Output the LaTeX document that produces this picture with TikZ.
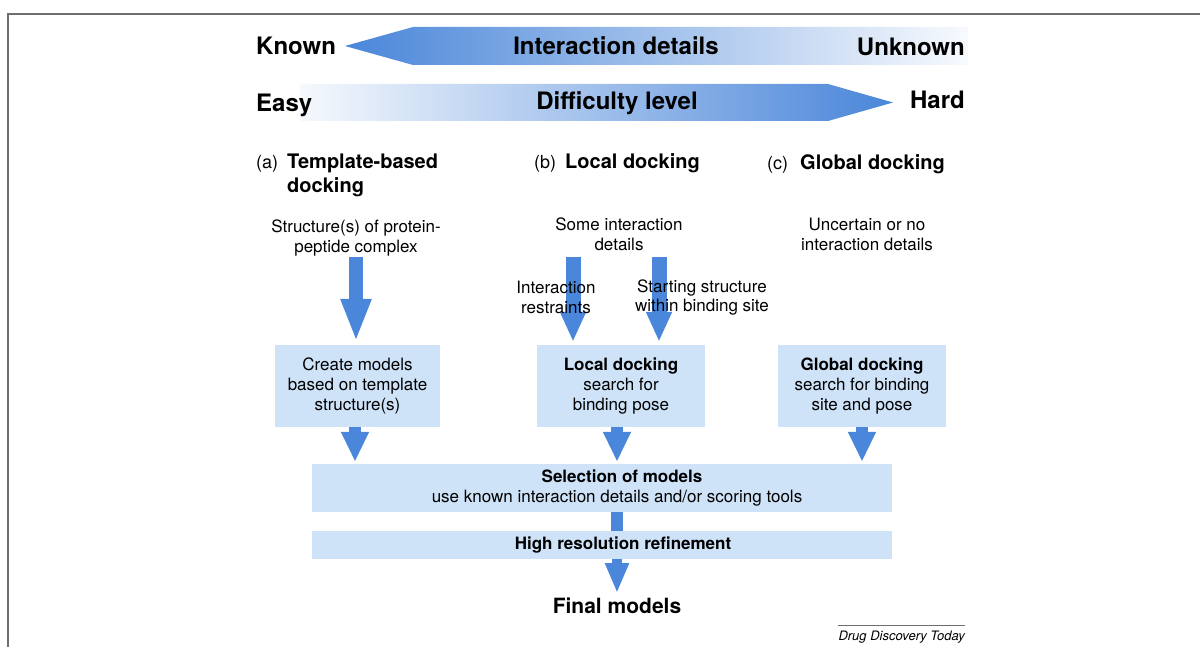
\documentclass[tikz,border=0pt]{standalone}
\usepackage{fontspec}
\setmainfont{TeX Gyre Heros}
\usetikzlibrary{arrows.meta,calc}
\definecolor{arrowblue}{RGB}{74,134,217}
\definecolor{boxfill}{RGB}{206,226,248}
\definecolor{framegray}{RGB}{110,110,110}
\pgfdeclarelayer{bg}
\pgfsetlayers{bg,main}
\begin{document}
\begin{tikzpicture}[x=1pt,y=-1pt,
  every node/.style={inner sep=0pt},
  big/.style={font=\fontsize{24}{28}\selectfont\bfseries},
  hdr/.style={font=\fontsize{20}{24}\selectfont\bfseries, align=left, anchor=base west},
  lbl/.style={font=\fontsize{18}{22}\selectfont, anchor=base west},
  txt/.style={font=\fontsize{17}{20}\selectfont, align=center, anchor=base},
  box/.style={fill=boxfill, font=\fontsize{17}{20}\selectfont, align=center},
  fat/.style={draw=arrowblue, line width=#1},
  bigtip/.style={-{Triangle[length=43pt,width=28pt]}},
  midtip/.style={-{Triangle[length=30pt,width=24pt]}},
  smalltip/.style={-{Triangle[length=30pt,width=26pt]}},
  fintip/.style={-{Triangle[length=30pt,width=22pt]}}
]
\useasboundingbox (0,0) rectangle (1200,647);
\draw[framegray, line width=1.5pt] (8,647) -- (8,14) -- (1200,14);

% gradient arrows
\shade[left color=arrowblue, right color=arrowblue!4!white]
  (345,46) -- (413,27) -- (968,27) -- (968,65) -- (413,65) -- cycle;
\shade[left color=arrowblue!5!white, right color=arrowblue]
  (300,84) -- (828,84) -- (893,102.5) -- (828,121) -- (300,121) -- cycle;

\node[big, anchor=base west] (known) at (256,55) {Known};
\node[big, anchor=base east] (unknown) at (965,56) {Unknown};
\node[big, anchor=base] (idet) at (616,55) {Interaction details};
\node[big, anchor=base west] (easy) at (256,112) {Easy};
\node[big, anchor=base] (diff) at (617,110) {Difficulty level};
\node[big, anchor=base east] (hard) at (965,109) {Hard};

% column headers (base = last line)
\node[lbl] (la) at (256,169) {(a)};
\node[hdr] (ha) at (287,193) {Template-based\\docking};
\node[lbl] (lb) at (534,169) {(b)};
\node[hdr] (hb) at (565,169) {Local docking};
\node[lbl] (lc) at (767,170) {(c)};
\node[hdr] (hc) at (800,170) {Global docking};

% input texts (base = last line)
\node[txt] (ta) at (356,253) {Structure(s) of protein-\\peptide complex};
\node[txt] (tb) at (619,251) {Some interaction\\details};
\node[txt] (tc) at (867,251) {Uncertain or no\\interaction details};
\node[txt] (tr) at (556,313) {Interaction\\restraints};
\node[txt] (ts) at (702,312) {Starting structure\\within binding site};

% boxes
\node[box, minimum width=165pt, minimum height=82pt] (boxA) at (357.5,386)
  {Create models\\based on template\\structure(s)};
\node[box, minimum width=168pt, minimum height=82pt] (boxB) at (621,386)
  {\textbf{Local docking}\\search for\\binding pose};
\node[box, minimum width=168pt, minimum height=82pt] (boxC) at (862,386)
  {\textbf{Global docking}\\search for binding\\site and pose};
\node[box, minimum width=580pt, minimum height=48pt] (sel) at (602,488)
  {\hspace*{40pt}\textbf{Selection of models}\\\hspace*{30pt}use known interaction details and/or scoring tools};
\node[box, minimum width=580pt, minimum height=28pt] (ref) at (602,545)
  {\hspace*{42pt}\textbf{High resolution refinement}};

\node[font=\fontsize{21}{24}\selectfont\bfseries, anchor=base] (final) at (617,613) {Final models};
\node[font=\fontsize{13}{15}\selectfont\itshape, anchor=base east] (cap) at (965,640) {Drug Discovery Today};

\begin{pgfonlayer}{bg}
\draw[framegray, line width=0.8pt] ([yshift=5pt]cap.north west) -- ([yshift=5pt]cap.north east);
\draw[fat=14pt, bigtip, shorten >=3pt] (ta.south) -- (ta.south |- boxA.north);
\draw[fat=15pt, midtip, shorten >=3pt] ([xshift=-46pt,yshift=-6pt]tb.south) -- ([xshift=-46pt]tb.south |- boxB.north);
\draw[fat=15pt, midtip, shorten >=3pt] ([xshift=40pt,yshift=-6pt]tb.south) -- ([xshift=40pt]tb.south |- boxB.north);
\draw[fat=12pt, smalltip, shorten >=2pt] ([xshift=-2.5pt]boxA.south) -- ([xshift=-2.5pt]boxA.south |- sel.north);
\draw[fat=12pt, smalltip, shorten >=2pt] ([xshift=-4pt]boxB.south) -- ([xshift=-4pt]boxB.south |- sel.north);
\draw[fat=12pt, smalltip, shorten >=2pt] (boxC.south) -- (boxC.south |- sel.north);
\draw[fat=12pt] ([xshift=15pt]sel.south) -- ([xshift=15pt]ref.north);
\draw[fat=10pt, fintip, shorten >=4pt] ([xshift=15pt]ref.south) -- (final.north);
\end{pgfonlayer}
\end{tikzpicture}
\end{document}
